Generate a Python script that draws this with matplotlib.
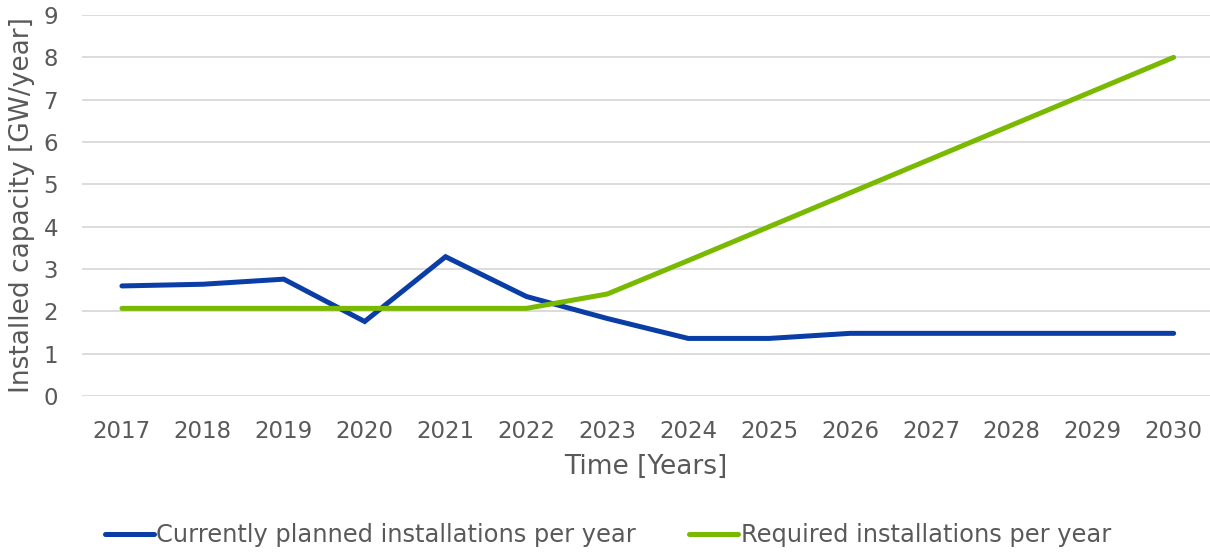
import matplotlib
matplotlib.use('Agg')
import matplotlib.pyplot as plt

plt.rcParams['font.family'] = ['DejaVu Sans']

# data
years = ['2017', '2018', '2019', '2020', '2021', '2022', '2023',
         '2024', '2025', '2026', '2027', '2028', '2029', '2030']
planned = [2.60, 2.64, 2.76, 1.76, 3.29, 2.35, 1.83,
           1.36, 1.36, 1.48, 1.48, 1.48, 1.48, 1.48]
required = [2.07, 2.07, 2.07, 2.07, 2.07, 2.07, 2.41,
            3.2, 4.0, 4.8, 5.6, 6.4, 7.2, 8.0]
y_ticks = [0, 1, 2, 3, 4, 5, 6, 7, 8, 9]

text_col = '#595959'
grid_col = '#d9d9d9'
blue = '#0a3ea6'
green = '#79b900'

W, H = 1210, 552
fig = plt.figure(figsize=(W / 100, H / 100), dpi=100)
ax = fig.add_axes([81.5 / W, 1 - 396 / H, (W - 81.5) / W, 381 / H])

x = list(range(len(years)))
ax.plot(x, planned, color=blue, lw=3.6, solid_capstyle='round',
        solid_joinstyle='miter', label='Currently planned installations per year')
ax.plot(x, required, color=green, lw=3.6, solid_capstyle='round',
        solid_joinstyle='miter', label='Required installations per year')

ax.set_xlim(-0.5, (W - 81.5) / 80.9 - 0.5)
ax.set_ylim(0, 9)
ax.set_yticks(y_ticks)
ax.set_xticks(x)
ax.set_xticklabels(years)
ax.yaxis.grid(True, color=grid_col, lw=1.3)
ax.set_axisbelow(True)
for s in ax.spines.values():
    s.set_visible(False)
ax.tick_params(length=0, labelsize=16.5, colors=text_col)
ax.tick_params(axis='y', pad=17)
ax.tick_params(axis='x', pad=17)

ax.set_ylabel('Installed capacity [GW/year]', fontsize=19, color=text_col, labelpad=6)
ax.set_xlabel('Time [Years]', fontsize=19, color=text_col, labelpad=8)

leg = fig.legend(loc='center', bbox_to_anchor=(0.5025, 1 - 535 / H), ncol=2,
                 frameon=False, fontsize=17.4, handlelength=2.0,
                 handletextpad=0.12, columnspacing=2.2)
for t in leg.get_texts():
    t.set_color(text_col)

fig.savefig('out.png', dpi=100)
